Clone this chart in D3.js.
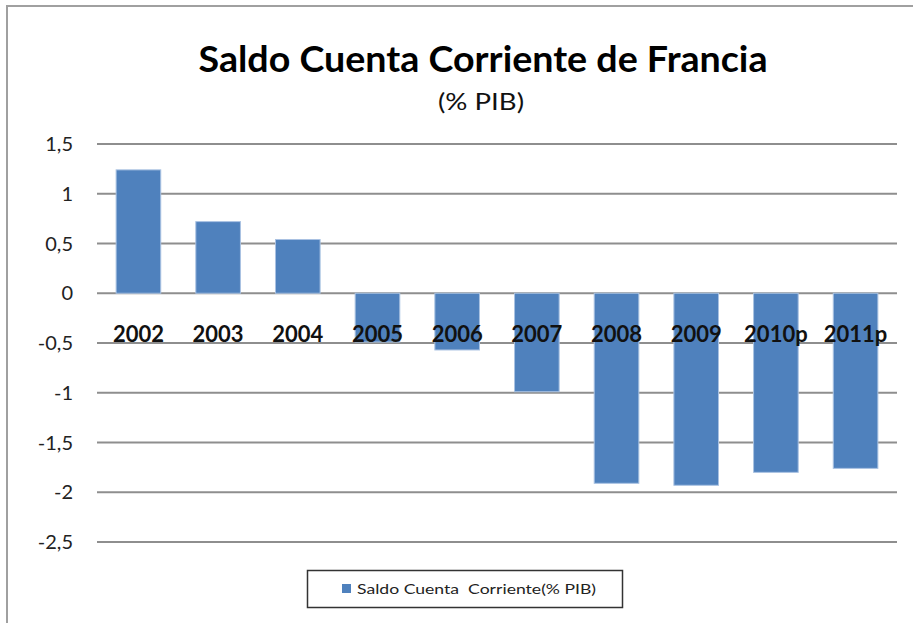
<!DOCTYPE html>
<html>
<head>
<meta charset="utf-8">
<script src="https://cdn.jsdelivr.net/npm/d3@7"></script>
<style>
    body { margin: 0; background: #fff; }
    svg { display: block; }
    text { font-family: Lato, "Open Sans", sans-serif; }
</style>
</head>
<body>
<script>
// datos del gráfico
var years = ["2002", "2003", "2004", "2005", "2006", "2007", "2008", "2009", "2010p", "2011p"];
var saldo = [1.24, 0.72, 0.54, -0.49, -0.57, -0.99, -1.91, -1.93, -1.80, -1.76];
var yTicks = [1.5, 1, 0.5, 0, -0.5, -1, -1.5, -2, -2.5];
var seriesName = "Saldo Cuenta  Corriente(% PIB)";

var width = 913,
    height = 623;

var svg = d3.select("body")
    .append("svg")
    .attr("width", width)
    .attr("height", height);

// marco del gráfico (solo borde superior e izquierdo visibles)
svg.append("path")
    .attr("d", "M7,623 L7,6 L913,6")
    .attr("fill", "none")
    .attr("stroke", "#a0a0a0")
    .attr("stroke-width", 2);

// escalas
var x = d3.scaleBand()
    .domain(years)
    .range([97, 897])
    .paddingInner(0.44)
    .paddingOuter(0.24);

var y = d3.scaleLinear()
    .domain([-2.5, 1.5])
    .range([542, 144]);

var fmt = function (d) {
    return String(d).replace(".", ",");
};

// líneas de cuadrícula
svg.append("g")
    .attr("class", "grid")
    .selectAll("line")
    .data(yTicks)
    .enter()
    .append("line")
    .attr("x1", 97)
    .attr("x2", 897)
    .attr("y1", function (d) { return y(d); })
    .attr("y2", function (d) { return y(d); })
    .attr("stroke", "#8e8e8e")
    .attr("stroke-width", 2);

// etiquetas eje y
svg.append("g")
    .attr("class", "ylabels")
    .selectAll("text")
    .data(yTicks)
    .enter()
    .append("text")
    .attr("x", 73)
    .attr("y", function (d) { return y(d); })
    .attr("dy", "0.36em")
    .attr("text-anchor", "end")
    .attr("font-size", 20)
    .attr("fill", "#222")
    .text(fmt);

// barras
svg.append("g")
    .attr("class", "bars")
    .selectAll("rect")
    .data(saldo)
    .enter()
    .append("rect")
    .attr("x", function (d, i) { return x(years[i]); })
    .attr("width", x.bandwidth())
    .attr("y", function (d) { return y(Math.max(0, d)); })
    .attr("height", function (d) { return Math.abs(y(d) - y(0)); })
    .attr("fill", "#4f81bd")
    .attr("stroke", "#a9c2e2")
    .attr("stroke-width", 1);

// etiquetas de categoría (encima de las barras)
svg.append("g")
    .attr("class", "xlabels")
    .selectAll("text")
    .data(years)
    .enter()
    .append("text")
    .attr("x", function (d) { return x(d) + x.bandwidth() / 2; })
    .attr("y", y(0) + 49)
    .attr("text-anchor", "middle")
    .attr("font-size", 22)
    .attr("font-weight", "bold")
    .attr("fill", "#111")
    .text(function (d) { return d; });

// título
svg.append("text")
    .attr("x", 483)
    .attr("y", 72)
    .attr("text-anchor", "middle")
    .attr("font-size", 36)
    .attr("font-weight", "bold")
    .attr("fill", "#000")
    .attr("textLength", 569)
    .attr("lengthAdjust", "spacingAndGlyphs")
    .text("Saldo Cuenta Corriente de Francia");

svg.append("text")
    .attr("x", 481)
    .attr("y", 110)
    .attr("text-anchor", "middle")
    .attr("font-size", 23)
    .attr("fill", "#111")
    .attr("textLength", 86)
    .attr("lengthAdjust", "spacingAndGlyphs")
    .text("(% PIB)");

// leyenda
var legend = svg.append("g").attr("class", "legend");
legend.append("rect")
    .attr("x", 307.5)
    .attr("y", 570.5)
    .attr("width", 315)
    .attr("height", 37)
    .attr("fill", "#fff")
    .attr("stroke", "#333")
    .attr("stroke-width", 1.5);
legend.append("rect")
    .attr("x", 342)
    .attr("y", 584)
    .attr("width", 9)
    .attr("height", 9)
    .attr("fill", "#4f81bd");
legend.append("text")
    .attr("x", 357)
    .attr("y", 594)
    .attr("font-size", 14)
    .attr("fill", "#222")
    .style("white-space", "pre")
    .attr("textLength", 239)
    .attr("lengthAdjust", "spacingAndGlyphs")
    .text(seriesName);
</script>
</body>
</html>
